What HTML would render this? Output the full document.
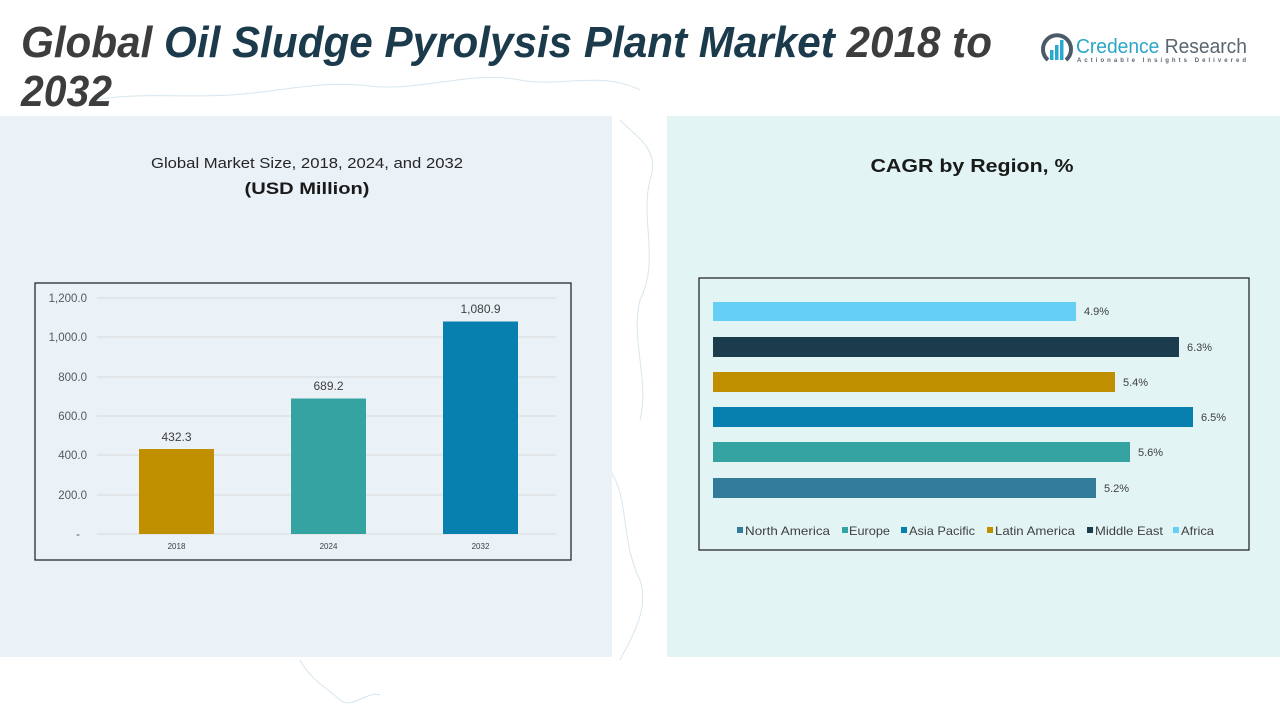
<!DOCTYPE html>
<html>
<head>
<meta charset="utf-8">
<style>
html,body{margin:0;padding:0;background:#ffffff;}
svg{display:block;}
text{font-family:"Liberation Sans","DejaVu Sans",sans-serif;}
</style>
</head>
<body>
<svg width="1280" height="720" viewBox="0 0 1280 720" xmlns="http://www.w3.org/2000/svg">
  <rect x="0" y="0" width="1280" height="720" fill="#ffffff"/>
  <!-- faint map hints -->
  <g fill="none" stroke="#d6e6ee" stroke-width="1">
    <path d="M95 100 C140 92 180 98 230 95 C280 92 320 80 370 86 C420 92 470 70 520 80 C560 88 600 70 640 90"/>
    <path d="M620 120 C640 140 660 150 650 180 C640 220 660 260 640 300 C630 340 650 380 640 420"/>
    <path d="M610 470 C630 500 620 540 640 580 C650 610 630 640 620 660"/>
    <path d="M300 660 C310 680 330 690 340 700 C350 710 370 690 380 695"/>
  </g>
  <!-- panels -->
  <rect x="0" y="116" width="612" height="541" fill="#eaf2f8"/>
  <rect x="667" y="116" width="613" height="541" fill="#e2f4f4"/>

  <!-- Title -->
  <text x="21" y="57" font-size="44" font-weight="bold" font-style="italic" textLength="971" lengthAdjust="spacingAndGlyphs"><tspan fill="#3d3d3d">Global </tspan><tspan fill="#1b3a4b">Oil Sludge Pyrolysis Plant Market </tspan><tspan fill="#3d3d3d">2018 to</tspan></text>
  <text x="21" y="106" font-size="44" font-weight="bold" font-style="italic" fill="#3d3d3d" textLength="91" lengthAdjust="spacingAndGlyphs">2032</text>

  <!-- Logo -->
  <g>
    <path d="M1048 60 A14 14 0 1 1 1066 60" fill="none" stroke="#4b5a66" stroke-width="4"/>
    <rect x="1050" y="50" width="3.5" height="10" fill="#29a8d0"/>
    <rect x="1055" y="45" width="3.5" height="15" fill="#29a8d0"/>
    <rect x="1060" y="40" width="3.5" height="20" fill="#29a8d0"/>
    <text x="1076" y="53" font-size="20" textLength="171" lengthAdjust="spacingAndGlyphs"><tspan fill="#2aa5c8">Credence </tspan><tspan fill="#5a6670">Research</tspan></text>
    <text x="1077" y="62" font-size="6" font-weight="bold" fill="#5a6670" textLength="169" lengthAdjust="spacing">Actionable Insights Delivered</text>
  </g>

  <!-- Left chart headings -->
  <text x="307" y="168" font-size="15" fill="#262626" text-anchor="middle" textLength="312" lengthAdjust="spacingAndGlyphs">Global Market Size, 2018, 2024, and 2032</text>
  <text x="307" y="194" font-size="17" font-weight="bold" fill="#1a1a1a" text-anchor="middle" textLength="125" lengthAdjust="spacingAndGlyphs">(USD Million)</text>

  <!-- Left chart box -->
  <rect x="35" y="283" width="536" height="277" fill="none" stroke="#1a1a1a" stroke-width="1.2"/>
  <g stroke="#d9d9d9" stroke-width="1">
    <line x1="97" y1="298" x2="556" y2="298"/>
    <line x1="97" y1="337" x2="556" y2="337"/>
    <line x1="97" y1="377" x2="556" y2="377"/>
    <line x1="97" y1="416" x2="556" y2="416"/>
    <line x1="97" y1="455" x2="556" y2="455"/>
    <line x1="97" y1="495" x2="556" y2="495"/>
    <line x1="97" y1="534" x2="556" y2="534"/>
  </g>
  <g font-size="11.5" fill="#595959" text-anchor="end">
    <text x="87" y="302">1,200.0</text>
    <text x="87" y="341">1,000.0</text>
    <text x="87" y="381">800.0</text>
    <text x="87" y="420">600.0</text>
    <text x="87" y="459">400.0</text>
    <text x="87" y="499">200.0</text>
    <text x="80" y="538">-</text>
  </g>
  <rect x="139" y="449" width="75" height="85" fill="#bf8f00"/>
  <rect x="291" y="398.5" width="75" height="135.5" fill="#36a3a3"/>
  <rect x="443" y="321.5" width="75" height="212.5" fill="#0780b0"/>
  <g font-size="12" fill="#404040" text-anchor="middle">
    <text x="176.5" y="441">432.3</text>
    <text x="328.5" y="390">689.2</text>
    <text x="480.5" y="313">1,080.9</text>
  </g>
  <g font-size="8" fill="#404040" text-anchor="middle">
    <text x="176.5" y="549">2018</text>
    <text x="328.5" y="549">2024</text>
    <text x="480.5" y="549">2032</text>
  </g>

  <!-- Right chart heading -->
  <text x="972" y="172" font-size="18" font-weight="bold" fill="#1a1a1a" text-anchor="middle" textLength="203" lengthAdjust="spacingAndGlyphs">CAGR by Region, %</text>

  <!-- Right chart box -->
  <rect x="699" y="278" width="550" height="272" fill="none" stroke="#1a1a1a" stroke-width="1.2"/>
  <rect x="713" y="302" width="363" height="19" fill="#66cff5"/>
  <rect x="713" y="337" width="466" height="20" fill="#1a3c4c"/>
  <rect x="713" y="372" width="402" height="20" fill="#bf8f00"/>
  <rect x="713" y="407" width="480" height="20" fill="#0780b0"/>
  <rect x="713" y="442" width="417" height="20" fill="#36a3a3"/>
  <rect x="713" y="478" width="383" height="20" fill="#337b9a"/>
  <g font-size="11" fill="#404040">
    <text x="1084" y="315">4.9%</text>
    <text x="1187" y="351">6.3%</text>
    <text x="1123" y="386">5.4%</text>
    <text x="1201" y="421">6.5%</text>
    <text x="1138" y="456">5.6%</text>
    <text x="1104" y="492">5.2%</text>
  </g>
  <!-- Legend -->
  <g font-size="12" fill="#404040">
    <rect x="737" y="527" width="6" height="6" fill="#337b9a"/>
    <text x="745" y="535" textLength="85" lengthAdjust="spacingAndGlyphs">North America</text>
    <rect x="842" y="527" width="6" height="6" fill="#36a3a3"/>
    <text x="849" y="535" textLength="41" lengthAdjust="spacingAndGlyphs">Europe</text>
    <rect x="901" y="527" width="6" height="6" fill="#0780b0"/>
    <text x="909" y="535" textLength="66" lengthAdjust="spacingAndGlyphs">Asia Pacific</text>
    <rect x="987" y="527" width="6" height="6" fill="#bf8f00"/>
    <text x="995" y="535" textLength="80" lengthAdjust="spacingAndGlyphs">Latin America</text>
    <rect x="1087" y="527" width="6" height="6" fill="#1a3c4c"/>
    <text x="1095" y="535" textLength="68" lengthAdjust="spacingAndGlyphs">Middle East</text>
    <rect x="1173" y="527" width="6" height="6" fill="#66cff5"/>
    <text x="1181" y="535" textLength="33" lengthAdjust="spacingAndGlyphs">Africa</text>
  </g>
</svg>
</body>
</html>
